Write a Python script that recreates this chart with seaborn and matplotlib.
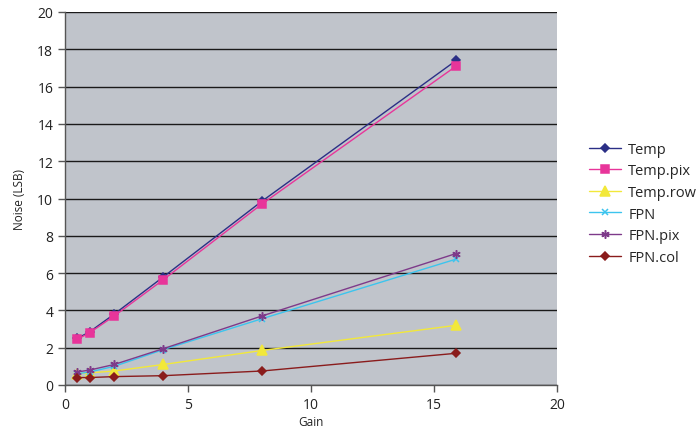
import matplotlib
matplotlib.use("Agg")
import matplotlib.pyplot as plt
import seaborn as sns
import pandas as pd

gain = [0.5, 1, 2, 4, 8, 15.9]
series_names = ["Temp", "Temp.pix", "Temp.row", "FPN", "FPN.pix", "FPN.col"]
temp = [2.5, 2.85, 3.8, 5.8, 9.85, 17.4]
temp_pix = [2.45, 2.8, 3.7, 5.65, 9.7, 17.1]
temp_row = [0.6, 0.65, 0.75, 1.1, 1.85, 3.2]
fpn = [0.6, 0.7, 1.0, 1.9, 3.55, 6.75]
fpn_pix = [0.7, 0.8, 1.1, 1.95, 3.7, 7.05]
fpn_col = [0.4, 0.4, 0.45, 0.5, 0.75, 1.7]
values = [temp, temp_pix, temp_row, fpn, fpn_pix, fpn_col]

rows = []
for name, vals in zip(series_names, values):
    for g, v in zip(gain, vals):
        rows.append({"Gain": g, "Noise": v, "Series": name})
df = pd.DataFrame(rows)

colors = {"Temp": "#2b2f86", "Temp.pix": "#e8359a", "Temp.row": "#f2e83a",
          "FPN": "#3cc4ee", "FPN.pix": "#7e3a8a", "FPN.col": "#8a1c1c"}
markers = {"Temp": "D", "Temp.pix": "s", "Temp.row": "^",
           "FPN": "x", "FPN.pix": (6, 2, 0), "FPN.col": "D"}
msizes = {"Temp": 4.5, "Temp.pix": 5.5, "Temp.row": 6.5, "FPN": 5, "FPN.pix": 6, "FPN.col": 4.5}

sns.set_style("white")
plt.rcParams['font.family'] = ['Open Sans', 'DejaVu Sans']

fig = plt.figure(figsize=(6.96, 4.31), dpi=100)
ax = fig.add_axes([65/696, 45/431, (557-65)/696, (386-13)/431])
ax.set_facecolor("#c0c4cb")

for name in series_names:
    sub = df[df["Series"] == name]
    sns.lineplot(data=sub, x="Gain", y="Noise", ax=ax, color=colors[name],
                 marker=markers[name], markersize=msizes[name], linewidth=1.0,
                 markeredgecolor=colors[name], markeredgewidth=1.1,
                 label=name, estimator=None, sort=False)

ax.set_xlim(0, 20)
ax.set_ylim(0, 20)
ax.set_xticks([0, 5, 10, 15, 20])
ax.set_yticks(range(0, 21, 2))
ax.yaxis.grid(True, color="#1a1a1a", linewidth=1.0)
ax.xaxis.grid(False)
ax.set_axisbelow(True)
for s in ["top", "right"]:
    ax.spines[s].set_visible(False)
for s in ["left", "bottom"]:
    ax.spines[s].set_color("#555555")
    ax.spines[s].set_linewidth(1.0)
ax.tick_params(axis="both", which="both", direction="out", length=5, width=1,
               color="#555555", labelsize=10, colors="#222222", bottom=True, left=True)
ax.set_xlabel("Gain", fontsize=8.5, labelpad=2, color="#222222")
ax.set_ylabel("Noise (LSB)", fontsize=8.5, labelpad=8, color="#222222")

leg = ax.legend(loc="upper left", bbox_to_anchor=(583/696, 1 - 137/431),
                bbox_transform=fig.transFigure, frameon=False, fontsize=10.5,
                handlelength=2.2, labelspacing=0.45, handletextpad=0.5, borderaxespad=0)

fig.savefig("out.png", dpi=100, facecolor="white")
